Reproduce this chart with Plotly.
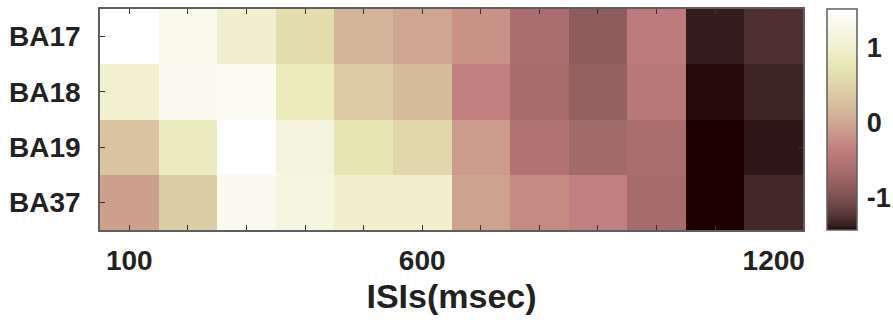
import numpy as np
import plotly.graph_objects as go

# ---- data ----
isis = [100, 200, 300, 400, 500, 600, 700, 800, 900, 1000, 1100, 1200]
regions = ["BA17", "BA18", "BA19", "BA37"]
ba17 = [1.52, 1.31, 1.02, 0.63, 0.13, -0.01, -0.20, -0.61, -0.87, -0.40, -1.38, -1.28]
ba18 = [1.04, 1.33, 1.36, 0.84, 0.39, 0.22, -0.35, -0.62, -0.82, -0.46, -1.42, -1.35]
ba19 = [0.30, 0.87, 1.52, 1.16, 0.72, 0.54, -0.11, -0.54, -0.68, -0.61, -1.45, -1.40]
ba37 = [-0.07, 0.42, 1.32, 1.18, 1.00, 1.00, -0.05, -0.26, -0.35, -0.65, -1.45, -1.33]
x_tick_labels = {100: "100", 600: "600", 1200: "1200"}
cbar_ticks = [-1, 0, 1]

# ---- MATLAB-style "pink" colormap ----
m = 64
n = int(3 / 8 * m)
r_hot = np.concatenate([np.arange(1, n + 1) / n, np.ones(m - n)])
g_hot = np.concatenate([np.zeros(n), np.arange(1, n + 1) / n, np.ones(m - 2 * n)])
b_hot = np.concatenate([np.zeros(2 * n), np.arange(1, m - 2 * n + 1) / (m - 2 * n)])
gray = np.linspace(0, 1, m)
pink = np.sqrt((2 * gray[:, None] + np.stack([r_hot, g_hot, b_hot], axis=1)) / 3)
colorscale = [[i / (m - 1), "rgb(%d,%d,%d)" % tuple((pink[i] * 255).round().astype(int))]
              for i in range(m)]

z = [ba17, ba18, ba19, ba37]

font_fam = "Liberation Sans, Arial, sans-serif"
txt_col = "#222222"
frame_col = "#5e5e5e"

fig = go.Figure(go.Heatmap(
    x=isis, y=regions, z=z,
    zmin=-1.44, zmax=1.52,
    colorscale=colorscale,
    colorbar=dict(
        thickness=30, thicknessmode="pixels",
        len=1, lenmode="fraction", y=0.5, yanchor="middle",
        x=(827 - 100) / 703, xanchor="left", xpad=0, ypad=0,
        outlinecolor=frame_col, outlinewidth=1.5,
        tickvals=cbar_ticks, ticktext=[str(t) for t in cbar_ticks],
        ticks="outside", ticklen=4, tickcolor="rgba(0,0,0,0)",
        tickfont=dict(family=font_fam, size=27, color=txt_col, weight="bold"),
    ),
))

fig.update_layout(
    width=893, height=320,
    margin=dict(l=100, r=90, t=9, b=90, autoexpand=False),
    paper_bgcolor="white", plot_bgcolor="white",
    font=dict(family=font_fam, color=txt_col),
)
fig.update_xaxes(
    automargin=False,
    tickvals=isis,
    ticktext=[x_tick_labels.get(v, "") for v in isis],
    ticks="inside", ticklen=5, tickcolor="#333333", tickwidth=1.2,
    showline=True, linecolor=frame_col, linewidth=1.5, mirror="ticks",
    tickfont=dict(family=font_fam, size=28, color=txt_col, weight="bold"),
    ticklabelstandoff=5,
    title=dict(text="ISIs(msec)", standoff=9,
               font=dict(family=font_fam, size=34, color=txt_col, weight="bold")),
    showgrid=False, zeroline=False,
    range=[50, 1250],
)
fig.update_yaxes(
    automargin=False,
    autorange="reversed",
    ticks="inside", ticklen=5, tickcolor="#333333", tickwidth=1.2,
    showline=True, linecolor=frame_col, linewidth=1.5, mirror="ticks",
    tickfont=dict(family=font_fam, size=28, color=txt_col, weight="bold"),
    ticklabelstandoff=12,
    showgrid=False, zeroline=False,
)

fig.write_html("out.html",
               config={"displayModeBar": False},
               post_script="document.body.style.margin='0';document.body.style.overflow='hidden';")
